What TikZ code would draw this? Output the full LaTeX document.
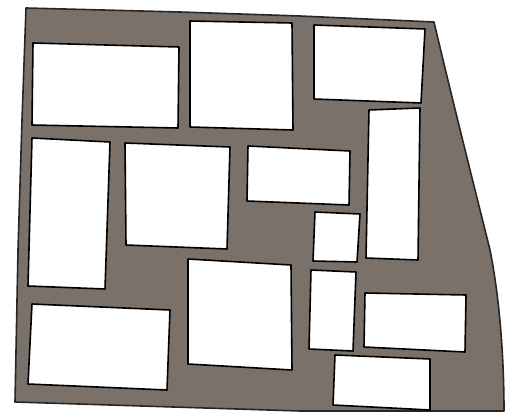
\documentclass[tikz,border=0pt]{standalone}
\begin{document}
\begin{tikzpicture}[x=1pt,y=-1pt,line join=round,
  panel/.style={fill=white,draw=black,line width=1.6pt},
  frame/.style={fill=wallgrey,draw=black!85,line width=1.6pt}]
\definecolor{wallgrey}{RGB}{122,114,106}
\useasboundingbox (0,0) rectangle (506,415);
% outer frame
\draw[frame] (26,8) -- (180,12) -- (300,16) -- (434,22)
  .. controls (450,90) and (470,170) .. (490,250)
  .. controls (500,300) and (504,360) .. (504,411)
  -- (300,411) -- (15,402)
  -- (18,250) -- (22,120) -- cycle;
% panels
\draw[panel] (33,43) -- (179,47) -- (178,128) -- (32,125) -- cycle;
\draw[panel] (190,21) -- (292,23) -- (293,130) -- (190,127) -- cycle;
\draw[panel] (314,25) -- (425,29) -- (421,103) -- (314,99) -- cycle;
\draw[panel] (369,110) -- (420,108) -- (418,260) -- (366,258) -- cycle;
\draw[panel] (32,138) -- (110,142) -- (105,289) -- (28,286) -- cycle;
\draw[panel] (125,143) -- (230,147) -- (227,249) -- (126,245) -- cycle;
\draw[panel] (248,146) -- (350,151) -- (349,205) -- (247,201) -- cycle;
\draw[panel] (315,212) -- (360,214) -- (357,262) -- (313,261) -- cycle;
\draw[panel] (311,270) -- (356,272) -- (353,351) -- (309,349) -- cycle;
\draw[panel] (365,293) -- (466,295) -- (465,352) -- (364,347) -- cycle;
\draw[panel] (335,355) -- (430,359) -- (430,410) -- (333,405) -- cycle;
\draw[panel] (188,259) -- (291,265) -- (292,370) -- (188,364) -- cycle;
\draw[panel] (32,304) -- (170,310) -- (167,390) -- (28,384) -- cycle;
\end{tikzpicture}
\end{document}
